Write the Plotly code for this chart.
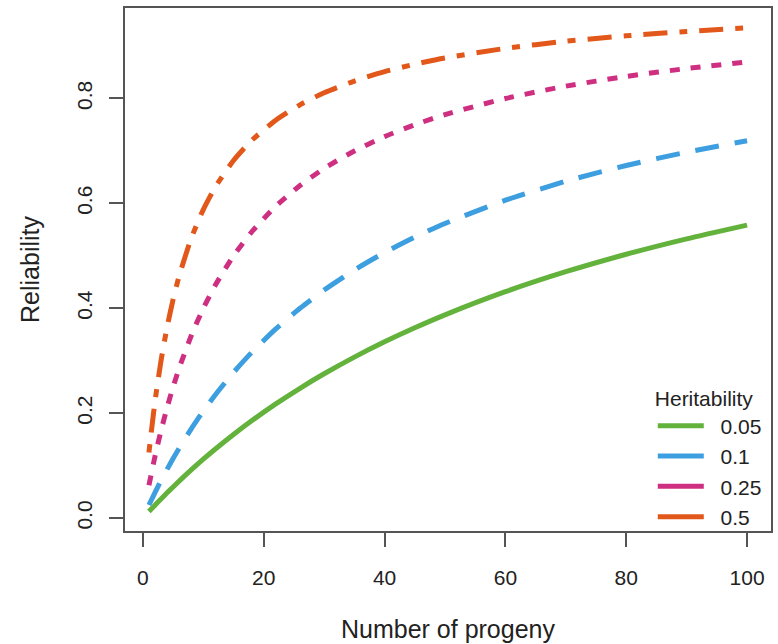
import plotly.graph_objects as go

progeny = [1, 2, 3, 4, 5, 6, 8, 10, 12, 15, 18, 22, 26, 30, 35, 40, 45, 50, 60, 70, 80, 90, 100]

rel_h005 = [0.0125, 0.0247, 0.0366, 0.0482, 0.0595, 0.0706, 0.0920, 0.1124, 0.1319, 0.1596,
            0.1856, 0.2178, 0.2476, 0.2752, 0.3070, 0.3361, 0.3629, 0.3876, 0.4317, 0.4698,
            0.5031, 0.5325, 0.5587]
rel_h010 = [0.0250, 0.0488, 0.0714, 0.0930, 0.1136, 0.1333, 0.1702, 0.2041, 0.2353, 0.2778,
            0.3158, 0.3607, 0.4000, 0.4348, 0.4730, 0.5063, 0.5357, 0.5618, 0.6061, 0.6422,
            0.6723, 0.6977, 0.7194]
rel_h025 = [0.0625, 0.1176, 0.1667, 0.2105, 0.2500, 0.2857, 0.3478, 0.4000, 0.4444, 0.5000,
            0.5455, 0.5946, 0.6341, 0.6667, 0.7000, 0.7273, 0.7500, 0.7692, 0.8000, 0.8235,
            0.8421, 0.8571, 0.8696]
rel_h050 = [0.1250, 0.2222, 0.3000, 0.3636, 0.4167, 0.4615, 0.5333, 0.5882, 0.6316, 0.6818,
            0.7200, 0.7586, 0.7879, 0.8108, 0.8333, 0.8511, 0.8654, 0.8772, 0.8955, 0.9091,
            0.9195, 0.9278, 0.9346]

labels = ["0.05", "0.1", "0.25", "0.5"]
series = [rel_h005, rel_h010, rel_h025, rel_h050]
colors = ["#63B23C", "#3D9FE0", "#CE2F80", "#E2571A"]
dashes = ["solid", "24px,16px", "10px,11px", "8px,12px,24px,12px"]

x_ticks = [0, 20, 40, 60, 80, 100]
y_ticks = [0.0, 0.2, 0.4, 0.6, 0.8]
y_tick_text = ["0.0", "0.2", "0.4", "0.6", "0.8"]

FONT = "Liberation Sans, Arial, sans-serif"
TXT = "#222222"

fig = go.Figure()
for lab, ys, col, dsh in zip(labels, series, colors, dashes):
    fig.add_trace(go.Scatter(x=progeny, y=ys, mode="lines", showlegend=False,
                             line=dict(color=col, width=5, dash=dsh, shape="spline", smoothing=0.6)))
for lab, col in zip(labels, colors):
    fig.add_trace(go.Scatter(x=[None], y=[None], mode="lines", name="\u00a0\u00a0" + lab,
                             line=dict(color=col, width=5)))

fig.update_layout(
    width=778, height=644,
    margin=dict(l=125, r=5, t=8, b=109),
    paper_bgcolor="white", plot_bgcolor="white",
    font=dict(family=FONT, size=21, color=TXT),
    legend=dict(title=dict(text="Heritability", font=dict(size=21)),
                x=0.817, xanchor="left", y=-0.012, yanchor="bottom",
                bgcolor="rgba(0,0,0,0)", font=dict(size=21),
                tracegroupgap=0, itemwidth=46),
    xaxis=dict(range=[-2.96, 103.96], tickvals=x_ticks, ticks="outside", ticklen=14,
               tickwidth=1.5, tickcolor="#555555", showline=True, mirror=True,
               linecolor="#555555", linewidth=1.5, showgrid=False, zeroline=False,
               ticklabelstandoff=13,
               title=dict(text="Number of progeny", standoff=33)),
    yaxis=dict(range=[-0.0245, 0.9725], tickvals=y_ticks, ticktext=y_tick_text,
               ticks="outside", ticklen=14, tickwidth=1.5, tickcolor="#555555",
               showline=True, mirror=True, linecolor="#555555", linewidth=1.5,
               showgrid=False, zeroline=False, tickangle=-90, ticklabelstandoff=9,
               title=dict(text="Reliability", standoff=26)),
)

fig.write_html("out.html")
